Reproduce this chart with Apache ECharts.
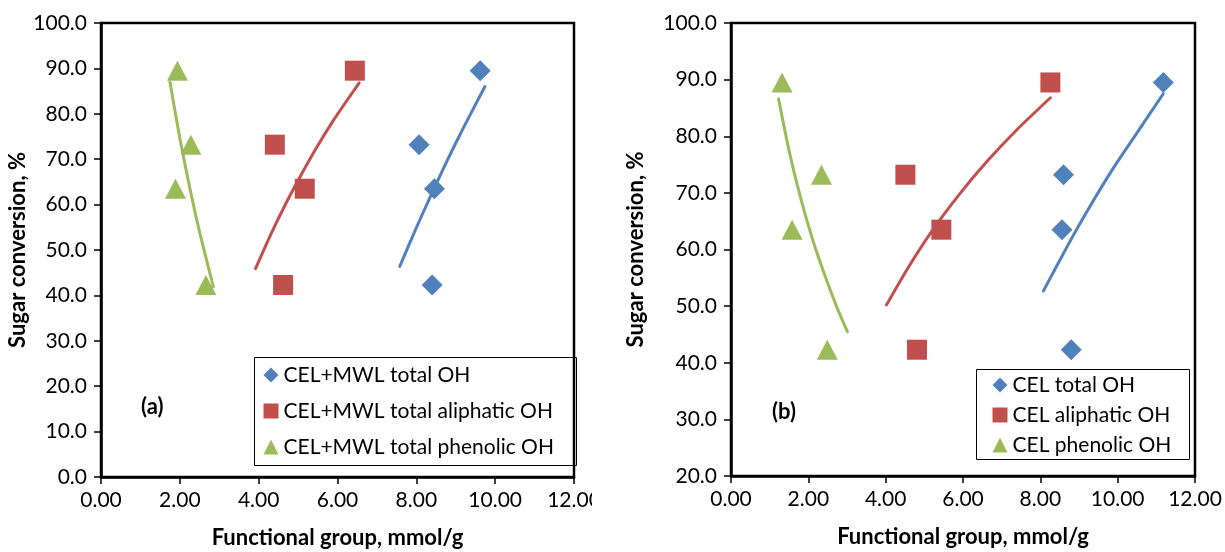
<!DOCTYPE html>
<html>
<head>
<meta charset="utf-8">
<script src="https://cdn.jsdelivr.net/npm/echarts@6/dist/echarts.min.js"></script>
<style>
  html, body { margin: 0; padding: 0; background: #fff; }
  #wrap { position: relative; width: 1225px; height: 552px; overflow: hidden; }
  #chartA { position: absolute; left: 0; top: 0; width: 592px; height: 552px; }
  #chartB { position: absolute; left: 600px; top: 0; width: 625px; height: 552px; }
</style>
</head>
<body>
<div id="wrap">
  <div id="chartA"></div>
  <div id="chartB"></div>
</div>
<script>
// Sugar conversion (%) for the four samples
const sugarConv = [89.5, 73.2, 63.5, 42.3];

// (a) CEL+MWL functional groups, mmol/g
const totalOH_a = [9.62, 8.07, 8.46, 8.40];
const aliphOH_a = [6.44, 4.41, 5.17, 4.62];
const phenOH_a  = [1.94, 2.28, 1.89, 2.66];

// (b) CEL functional groups, mmol/g
const totalOH_b = [11.18, 8.60, 8.56, 8.80];
const aliphOH_b = [8.26, 4.51, 5.44, 4.81];
const phenOH_b  = [1.32, 2.34, 1.58, 2.49];

// Trendline points [x, y] along each fitted curve
const trendTotal_a = [[7.58, 46.4], [8.0, 54.9], [8.4, 62.6], [8.8, 70.0], [9.2, 77.0], [9.74, 86.0]];
const trendAliph_a = [[3.92, 45.9], [4.3, 53.3], [4.7, 60.4], [5.1, 66.9], [5.5, 73.0], [5.9, 78.6], [6.3, 83.7], [6.55, 86.8]];
const trendPhen_a  = [[1.75, 87.0], [2.0, 74.6], [2.25, 63.8], [2.5, 54.0], [2.85, 41.9]];
const trendTotal_b = [[8.08, 52.7], [8.7, 60.6], [9.3, 67.8], [9.9, 74.5], [10.5, 80.6], [11.18, 87.5]];
const trendAliph_b = [[4.02, 50.2], [4.6, 57.0], [5.2, 63.3], [5.9, 69.7], [6.6, 75.4], [7.4, 81.2], [8.26, 86.8]];
const trendPhen_b  = [[1.23, 86.6], [1.5, 77.5], [1.8, 69.1], [2.1, 62.0], [2.45, 55.0], [2.75, 49.6], [3.01, 45.5]];

const namesA = ['CEL+MWL total OH', 'CEL+MWL total aliphatic OH', 'CEL+MWL total phenolic OH'];
const namesB = ['CEL total OH', 'CEL aliphatic OH', 'CEL phenolic OH'];

const xTitle = 'Functional group, mmol/g';
const yTitle = 'Sugar conversion, %';

const BLUE = '#4F81BD', RED = '#C0504D', GREEN = '#9BBB59';
const FONT = 'Lato';

function pts(xs) { return xs.map((x, i) => [x, sugarConv[i]]); }

function buildOption(cfg) {
  const axisLine = { show: true, lineStyle: { color: '#000', width: 2.5 } };
  const scatter = (name, xs, symbol, size, color) => ({
    type: 'scatter', name, data: pts(xs), symbol, symbolSize: size,
    itemStyle: { color, opacity: 1 }, z: 2
  });
  const trend = (data, color) => ({
    type: 'line', data, smooth: 0.2, showSymbol: false, symbol: 'none',
    lineStyle: { color, width: 3, cap: 'round' }, z: 3, silent: true
  });
  return {
    animation: false,
    textStyle: { fontFamily: FONT },
    grid: {
      left: cfg.grid.left, right: cfg.grid.right, top: cfg.grid.top, bottom: cfg.grid.bottom,
      outerBoundsMode: 'none', containLabel: false,
      show: true, borderColor: '#000', borderWidth: 2.5, backgroundColor: 'transparent'
    },
    xAxis: {
      type: 'value', min: 0, max: 12, interval: 2,
      axisLine, splitLine: { show: false },
      axisTick: { show: true, inside: false, length: 7, lineStyle: { color: '#000', width: 1.5 } },
      axisLabel: { formatter: v => v.toFixed(2), color: '#000', fontSize: 21, fontFamily: FONT, margin: 13 },
      name: xTitle, nameLocation: 'middle', nameGap: 50, nameMoveOverlap: false,
      nameTextStyle: { color: '#000', fontSize: 22, fontWeight: 'bold', fontFamily: FONT }
    },
    yAxis: {
      type: 'value', min: cfg.yMin, max: 100, interval: 10,
      axisLine, splitLine: { show: false },
      axisTick: { show: true, inside: false, length: 7, lineStyle: { color: '#000', width: 1.5 } },
      axisLabel: { formatter: v => v.toFixed(1), color: '#000', fontSize: 21, fontFamily: FONT, margin: 14 },
      name: yTitle, nameLocation: 'middle', nameGap: cfg.yNameGap, nameMoveOverlap: false,
      nameTextStyle: { color: '#000', fontSize: 22, fontWeight: 'bold', fontFamily: FONT }
    },
    legend: {
      data: cfg.names, orient: 'vertical', left: cfg.legend.left, top: cfg.legend.top,
      padding: 0, itemGap: cfg.legend.gap, itemWidth: 15, itemHeight: 15,
      textStyle: { color: '#000', fontSize: 21, fontFamily: FONT, lineHeight: 22 },
      selectedMode: false
    },
    graphic: [
      {
        type: 'rect', z: 100, silent: true,
        shape: cfg.box,
        style: { fill: 'none', stroke: '#000', lineWidth: 1 }
      },
      {
        type: 'text', left: cfg.tag.x, top: cfg.tag.y, z: 100,
        style: { text: cfg.tag.text, fill: '#000', font: 'bold 22px ' + FONT }
      }
    ],
    series: [
      scatter(cfg.names[0], cfg.total, 'diamond', 21, BLUE),
      scatter(cfg.names[1], cfg.aliph, 'rect', 20, RED),
      scatter(cfg.names[2], cfg.phen, 'triangle', [21, 20], GREEN),
      trend(cfg.tTotal, BLUE),
      trend(cfg.tAliph, RED),
      trend(cfg.tPhen, GREEN)
    ]
  };
}

const chartA = echarts.init(document.getElementById('chartA'), null, { renderer: 'canvas' });
chartA.setOption(buildOption({
  grid: { left: 101, right: 18, top: 23, bottom: 75 },
  yMin: 0, yNameGap: 72,
  names: namesA,
  total: totalOH_a, aliph: aliphOH_a, phen: phenOH_a,
  tTotal: trendTotal_a, tAliph: trendAliph_a, tPhen: trendPhen_a,
  legend: { left: 263.5, top: 364, gap: 14 },
  box: { x: 254.5, y: 357.5, width: 322, height: 108 },
  tag: { x: 141, y: 396, text: '(a)' }
}));

const chartB = echarts.init(document.getElementById('chartB'), null, { renderer: 'canvas' });
chartB.setOption(buildOption({
  grid: { left: 131, right: 30, top: 23, bottom: 76 },
  yMin: 20, yNameGap: 84,
  names: namesB,
  total: totalOH_b, aliph: aliphOH_b, phen: phenOH_b,
  tTotal: trendTotal_b, tAliph: trendAliph_b, tPhen: trendPhen_b,
  legend: { left: 392.5, top: 374, gap: 8 },
  box: { x: 376.5, y: 369.5, width: 213, height: 90 },
  tag: { x: 172, y: 401, text: '(b)' }
}));
</script>
</body>
</html>
